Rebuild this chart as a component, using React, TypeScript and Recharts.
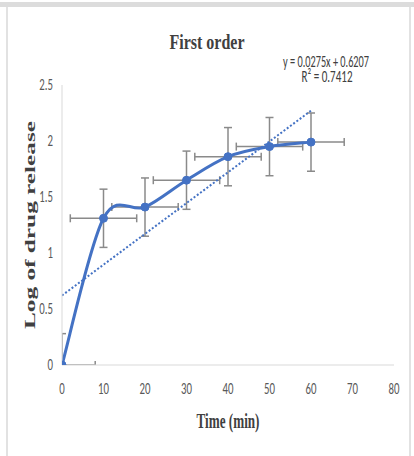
import React from "react";
import { ComposedChart, Line, Scatter, XAxis, YAxis, ErrorBar } from "recharts";

// values
const times = [0, 10, 20, 30, 40, 50, 60];
const logRelease = [0, 1.31, 1.41, 1.65, 1.86, 1.95, 1.99];
const yErrors = [0.28, 0.26, 0.26, 0.26, 0.26, 0.26, 0.26];
const xErrors = [8, 8, 8, 8, 8, 8, 8];
const trendTimes = [0, 60];
const trendValues = [0.6207, 2.2707];
const xTicks = [0, 10, 20, 30, 40, 50, 60, 70, 80];
const yTicks = [0, 0.5, 1, 1.5, 2, 2.5];

const data = times.map((t, i) => ({
  time: t,
  value: logRelease[i],
  ey: yErrors[i],
  ex: xErrors[i],
  trend: trendTimes.includes(t) ? trendValues[trendTimes.indexOf(t)] : null,
}));

const BLUE = "#4472C4";
const GREY_TEXT = "#595959";

// Excel-like smoothed line (Catmull-Rom through the points)
const excelSmooth = (context: any) => {
  let pts: number[][] = [];
  return {
    areaStart() {},
    areaEnd() {},
    lineStart() {
      pts = [];
    },
    point(x: number, y: number) {
      pts.push([+x, +y]);
    },
    lineEnd() {
      if (!pts.length) return;
      context.moveTo(pts[0][0], pts[0][1]);
      for (let i = 0; i < pts.length - 1; i++) {
        const p0 = pts[i - 1] ?? pts[i];
        const p1 = pts[i];
        const p2 = pts[i + 1];
        const p3 = pts[i + 2] ?? p2;
        context.bezierCurveTo(
          p1[0] + (p2[0] - p0[0]) / 6,
          p1[1] + (p2[1] - p0[1]) / 6,
          p2[0] - (p3[0] - p1[0]) / 6,
          p2[1] - (p3[1] - p1[1]) / 6,
          p2[0],
          p2[1]
        );
      }
    },
  };
};

const tickFont = "Calibri, 'Liberation Sans Narrow', 'Liberation Sans', sans-serif";

const XTick = ({ x, y, payload }: any) => (
  <text
    transform={`translate(${x},${y + 24}) scale(0.9,1.4)`}
    textAnchor="middle"
    dominantBaseline="central"
    fontSize={12}
    fontFamily={tickFont}
    fill={GREY_TEXT}
  >
    {payload.value}
  </text>
);

const YTick = ({ x, y, payload }: any) => (
  <text
    transform={`translate(${x - 9},${y}) scale(0.9,1.4)`}
    textAnchor="end"
    dominantBaseline="central"
    fontSize={12}
    fontFamily={tickFont}
    fill={GREY_TEXT}
  >
    {payload.value}
  </text>
);

const XTitle = ({ viewBox }: any) => (
  <text
    x={viewBox.x + viewBox.width / 2}
    y={viewBox.y + 63}
    textAnchor="middle"
    fontSize={22}
    fontWeight="bold"
    fontFamily="'Liberation Serif', serif"
    fill="#404040"
    textLength={63}
    lengthAdjust="spacingAndGlyphs"
  >
    Time (min)
  </text>
);

const YTitle = ({ viewBox }: any) => {
  const cx = viewBox.x + 30;
  const cy = viewBox.y + viewBox.height / 2;
  return (
    <text
      x={cx}
      y={cy}
      transform={`rotate(-90, ${cx}, ${cy})`}
      textAnchor="middle"
      dominantBaseline="central"
      fontSize={15}
      fontWeight="bold"
      fontFamily="'Liberation Serif', serif"
      fill="#404040"
      textLength={208}
      lengthAdjust="spacingAndGlyphs"
    >
      Log of drug release
    </text>
  );
};

export default function App() {
  return (
    <div style={{ position: "absolute", left: 0, top: 0, width: 414, height: 456, background: "#fff" }}>
      {/* frame */}
      <div style={{ position: "absolute", left: 0, top: 2, width: 414, height: 5, background: "#dcdcdc" }} />
      <div style={{ position: "absolute", left: 6, top: 7, width: 2, height: 449, background: "#e2e2e2" }} />
      <div style={{ position: "absolute", left: 409, top: 7, width: 2, height: 449, background: "#e2e2e2" }} />

      {/* clip for the error bars, in the chart's own coordinates */}
      <svg width={0} height={0} style={{ position: "absolute" }}>
        <defs>
          <clipPath id="plotArea" clipPathUnits="userSpaceOnUse">
            <rect x={62} y={85} width={332} height={280} />
          </clipPath>
        </defs>
      </svg>

      <ComposedChart
        width={414}
        height={456}
        data={data}
        margin={{ top: 85, right: 20, left: 0, bottom: 0 }}
        style={{ position: "absolute", left: 0, top: 0 }}
      >
        <XAxis
          dataKey="time"
          type="number"
          domain={[0, 80]}
          ticks={xTicks}
          allowDataOverflow
          height={91}
          axisLine={{ stroke: "#d9d9d9", strokeWidth: 1 }}
          tickLine={false}
          tickSize={0}
          tickMargin={0}
          tick={<XTick />}
          label={{ content: <XTitle /> }}
        />
        <YAxis
          type="number"
          domain={[0, 2.5]}
          ticks={yTicks}
          allowDataOverflow
          width={62}
          axisLine={{ stroke: "#d9d9d9", strokeWidth: 1 }}
          tickLine={false}
          tickSize={0}
          tickMargin={0}
          tick={<YTick />}
          label={{ content: <YTitle /> }}
        />
        <Scatter dataKey="value" shape={() => <g />} isAnimationActive={false}>
          <ErrorBar
            dataKey="ey"
            direction="y"
            width={4}
            stroke="#8a8a8a"
            strokeWidth={1.5}
            clipPath="url(#plotArea)"
          />
          <ErrorBar
            dataKey="ex"
            direction="x"
            width={4}
            stroke="#8a8a8a"
            strokeWidth={1.5}
            clipPath="url(#plotArea)"
          />
        </Scatter>
        <Line
          dataKey="trend"
          connectNulls
          stroke={BLUE}
          strokeWidth={2}
          strokeDasharray="2 2"
          dot={false}
          activeDot={false}
          isAnimationActive={false}
        />
        <Line
          dataKey="value"
          type={excelSmooth as any}
          stroke={BLUE}
          strokeWidth={3}
          dot={{ r: 4, fill: BLUE, stroke: BLUE, strokeWidth: 1 }}
          activeDot={false}
          isAnimationActive={false}
        />
      </ComposedChart>

      {/* title and trendline equation */}
      <svg width={414} height={100} style={{ position: "absolute", left: 0, top: 0, pointerEvents: "none" }}>
        <text
          x={207}
          y={49}
          textAnchor="middle"
          fontSize={22}
          fontWeight="bold"
          fontFamily="'Liberation Serif', serif"
          fill="#404040"
          textLength={75}
          lengthAdjust="spacingAndGlyphs"
        >
          First order
        </text>
        <text
          x={326}
          y={67}
          textAnchor="middle"
          fontSize={17}
          fontFamily={tickFont}
          fill="#404040"
          textLength={86}
          lengthAdjust="spacingAndGlyphs"
        >
          y = 0.0275x + 0.6207
        </text>
        <text
          x={327}
          y={82}
          textAnchor="middle"
          fontSize={17}
          fontFamily={tickFont}
          fill="#404040"
          textLength={51}
          lengthAdjust="spacingAndGlyphs"
        >
          R² = 0.7412
        </text>
      </svg>
    </div>
  );
}
